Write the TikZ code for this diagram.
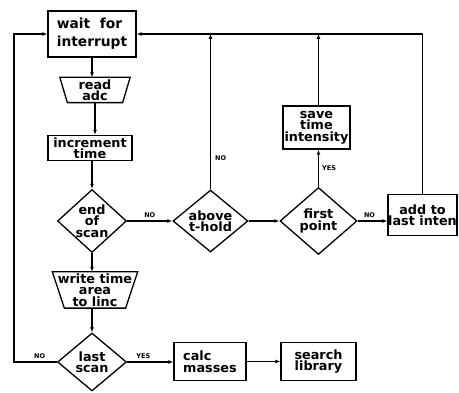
\documentclass[tikz,border=0pt]{standalone}
\usepackage{fontspec}
\setmainfont{DejaVu Sans}
\usetikzlibrary{shapes.geometric,arrows.meta}
\begin{document}
\begin{tikzpicture}[x=1pt,y=-1pt,
  line width=1.3pt,
  txt/.style={font=\bfseries\fontsize{12.8}{11.5}\selectfont,align=center,inner sep=0pt},
  boxnode/.style={draw,rectangle,inner sep=0pt},
  dia/.style={draw,diamond,inner sep=0pt},
  trapbox/.style={rectangle,inner sep=0pt},
  flow/.style={-{Latex[length=5pt,width=4pt]}},
  lab/.style={font=\bfseries\fontsize{6.5}{7}\selectfont,inner sep=0pt}]
\useasboundingbox (0,0) rectangle (459,393);
% boxes
\node[boxnode,minimum width=88pt,minimum height=46pt] (wait) at (92,34) {};
\node[txt,align=left,font=\bfseries\fontsize{13.8}{18}\selectfont] (waitt) at (wait.center) {wait\ \ for\\interrupt};
\node[trapbox,minimum width=69pt,minimum height=24pt] (read) at (95,90) {};
\draw (read.north west) -- (read.north east) -- ([xshift=-7.5pt]read.south east)
  -- ([xshift=7.5pt]read.south west) -- cycle;
\node[txt] (readt) at (read.center) {read\\adc};
\node[boxnode,minimum width=84pt,minimum height=25pt] (inc) at (90,148) {};
\node[txt] (inct) at (inc.center) {increment\\time};
\node[dia,minimum width=69pt,minimum height=63pt] (es) at (92,221) {};
\node[txt] (est) at (es.center) {end\\of\\scan};
\node[trapbox,minimum width=84pt,minimum height=35pt] (write) at (95,290) {};
\draw (write.north west) -- (write.north east) -- ([xshift=-12pt]write.south east)
  -- ([xshift=12pt]write.south west) -- cycle;
\node[txt] (writet) at (write.center) {write time\\area\\to linc};
\node[dia,minimum width=69pt,minimum height=58pt] (ls) at (92,362) {};
\node[txt] (lst) at (ls.center) {last\\scan};
\node[dia,minimum width=75pt,minimum height=62pt] (at) at (210.5,221) {};
\node[txt] (att) at (at.center) {above\\t-hold};
\node[dia,minimum width=77pt,minimum height=67pt] (fp) at (318.5,221) {};
\node[txt] (fpt) at (fp.center) {first\\point};
\node[boxnode,minimum width=67pt,minimum height=43pt] (save) at (316.5,127.5) {};
\node[txt] (savet) at (save.center) {save\\time\\intensity};
\node[boxnode,minimum width=69pt,minimum height=41pt] (add) at (422.5,215) {};
\node[txt] (addt) at (add.center) {add to\\last inten};
\node[boxnode,minimum width=72pt,minimum height=38pt] (calc) at (210,361.5) {};
\node[txt,align=left] (calct) at (calc.center) {calc\\masses};
\node[boxnode,minimum width=75pt,minimum height=38pt] (search) at (318.5,361.5) {};
\node[txt] (searcht) at (search.center) {search\\library};
\coordinate (lx) at (14,0);
% connectors
\draw[flow] (wait.south) -- (wait.south |- read.north);
\draw[flow] (read.south) -- (read.south |- inc.north);
\draw[flow] (inc.south -| es.north) -- (es.north);
\draw[flow] (es.south) -- (es.south |- write.north);
\draw[flow] (write.south -| ls.north) -- (ls.north);
\draw[flow] (es.east) -- node[lab,above=3pt]{NO} (at.west);
\draw[flow] (at.east) -- (fp.west);
\draw[flow] (fp.east) -- node[lab,above=3pt,pos=0.4]{NO} (fp.east -| add.west);
\draw[flow] (fp.north) -- node[lab,right=3pt,pos=0.5]{YES} (fp.north |- save.south);
\draw[flow] (save.north -| fp.north) -- (fp.north |- wait.east);
\draw[flow] (at.north) -- node[lab,right=4pt,pos=0.2]{NO} (at.north |- wait.east);
\draw[flow] (add.north) |- (wait.east);
\draw[flow] (ls.west) -- node[lab,above=3pt,pos=0.4]{NO} (ls.west -| lx) |- (wait.west);
\draw[flow] (ls.east) -- node[lab,above=3pt,pos=0.35]{YES} (ls.east -| calc.west);
\draw[flow] (calc.east) -- (search.west);
\end{tikzpicture}
\end{document}
